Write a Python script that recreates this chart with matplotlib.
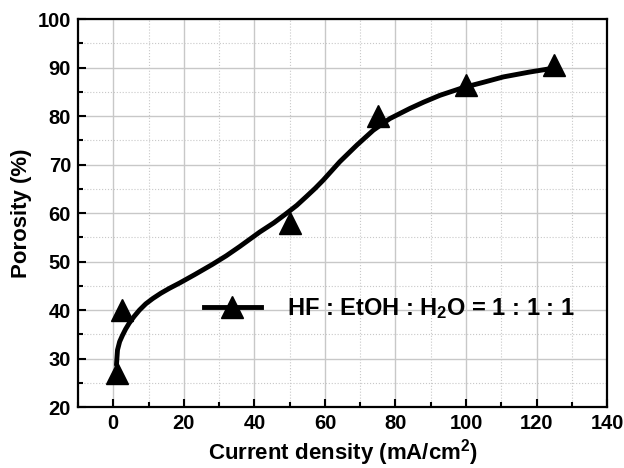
import matplotlib
matplotlib.use('Agg')
import matplotlib.pyplot as plt
from matplotlib.ticker import MultipleLocator

plt.rcParams['font.family'] = ['Liberation Sans', 'DejaVu Sans']
plt.rcParams['font.weight'] = 'bold'
plt.rcParams['mathtext.fontset'] = 'custom'
plt.rcParams['mathtext.rm'] = 'Liberation Sans:bold'
plt.rcParams['mathtext.default'] = 'rm'

# measured points
current = [1, 2.5, 50, 75, 100, 125]
porosity = [27, 40, 58, 80, 86.5, 90.5]

# fitted curve
curve_x = [0.9, 1.2, 1.8, 2.6, 3.5, 4.5, 5.9, 7.4, 9.2, 11.2, 13.5, 15.9, 18.8,
           23, 28, 32, 35.8, 41.5, 45.5, 49, 52, 54.7, 57.2, 59.5, 64.2, 69,
           73.7, 78.4, 84.1, 88, 92.6, 99.2, 105, 110.6, 118, 124.8]
curve_y = [28.7, 31.8, 33.5, 34.8, 36.1, 37.3, 38.7, 40, 41.3, 42.4, 43.5, 44.5,
           45.6, 47.3, 49.4, 51.2, 53.1, 56.1, 58.0, 59.9, 61.6, 63.4, 65.1,
           66.8, 70.6, 74, 77.1, 79.5, 81.6, 82.9, 84.3, 85.9, 87, 88.1, 89.1, 89.9]

label = r'HF : EtOH : H$_2$O = 1 : 1 : 1'

fig = plt.figure(figsize=(6.24, 4.68), dpi=100)
ax = fig.add_axes([0.125, 0.130, 0.848, 0.829])

ax.plot(curve_x, curve_y, color='black', lw=3.5, solid_capstyle='round',
        solid_joinstyle='round', zorder=3)
ax.plot(current, porosity, linestyle='none', marker='^', ms=16, color='black', zorder=4)
# legend proxy
ax.plot([], [], color='black', lw=3.5, marker='^', ms=16, label=label)

ax.set_xlim(-10, 140)
ax.set_ylim(20, 100)
ax.xaxis.set_major_locator(MultipleLocator(20))
ax.xaxis.set_minor_locator(MultipleLocator(10))
ax.yaxis.set_major_locator(MultipleLocator(10))
ax.yaxis.set_minor_locator(MultipleLocator(5))

ax.grid(which='major', color='#c8c8c8', lw=1.0, ls='-')
ax.grid(which='minor', color='#c8c8c8', lw=0.8, ls=':')
ax.set_axisbelow(True)

ax.tick_params(which='both', direction='in', top=False, right=False, width=1.5)
ax.tick_params(which='major', length=6, labelsize=14.5, pad=5)
ax.tick_params(which='minor', length=3.5)
for s in ax.spines.values():
    s.set_linewidth(1.6)

ax.set_xlabel(r'Current density (mA/cm$^2$)', fontsize=16, fontweight='bold', labelpad=3)
ax.set_ylabel('Porosity (%)', fontsize=16, fontweight='bold', labelpad=4)

ax.legend(loc='center left', bbox_to_anchor=(0.238, 0.255), frameon=False,
          fontsize=17, handlelength=2.4, handletextpad=1.1,
          borderpad=0, borderaxespad=0)

fig.savefig('out.png', dpi=100)
